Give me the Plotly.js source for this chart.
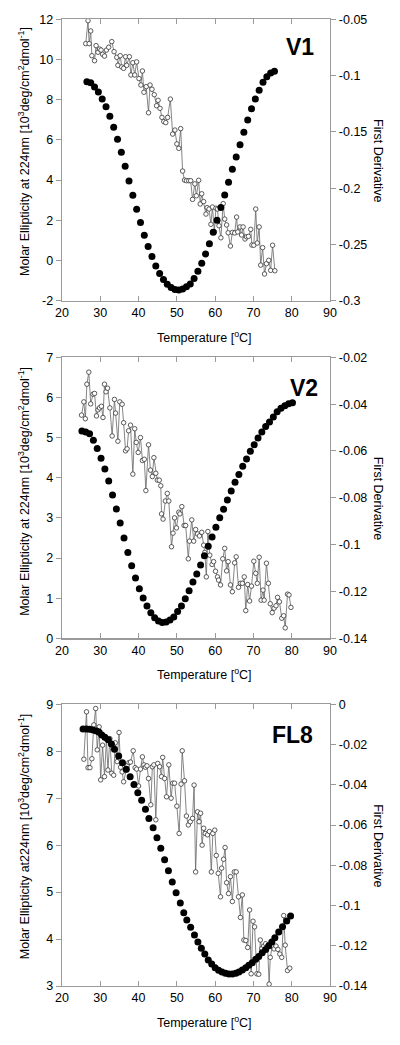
<!DOCTYPE html>
<html>
<head>
<meta charset="utf-8">
<script src="https://cdn.plot.ly/plotly-3.0.1.min.js"></script>
<style>html,body{margin:0;padding:0;background:#fff;}#chart{width:400px;height:1045px;}</style>
</head>
<body>
<div id="chart"></div>
<script>
// ---------- Panel V1 ----------
const v1EllipX = [26.2,26.8,27.1,27.5,27.8,28.5,28.9,29.4,29.8,30.2,30.6,31.1,31.6,32.2,33.0,33.6,34.3,34.6,35.2,35.6,36.1,36.6,36.9,37.6,38.0,38.5,39.0,39.5,40.1,40.6,41.0,41.4,42.0,42.6,43.0,43.5,44.1,44.7,45.1,45.6,46.1,46.6,47.1,47.6,48.3,48.9,49.5,50.0,50.5,51.0,51.5,52.0,52.5,53.1,53.6,54.1,54.7,55.1,55.7,56.1,56.5,57.0,57.6,57.9,58.4,58.9,59.3,59.8,60.2,60.6,61.0,61.5,62.1,62.5,63.0,63.4,64.0,64.5,65.1,65.6,65.9,66.5,66.9,67.3,67.8,68.2,68.7,69.3,69.6,70.1,70.6,71.0,71.5,71.9,72.4,72.9,73.4,74.0,74.5,75.0,75.6];
const v1EllipY = [10.79,11.93,10.79,11.42,10.19,9.94,10.69,10.36,10.52,10.47,10.26,10.17,10.47,10.61,10.89,10.39,10.11,9.71,10.19,9.63,9.56,10.14,9.71,10.14,9.23,9.84,9.23,9.88,9.05,8.73,9.43,8.37,8.65,7.35,8.73,8.52,8.25,7.70,7.97,7.57,7.12,6.91,6.86,7.12,8.03,6.29,6.49,5.80,5.58,6.56,4.45,4.00,3.97,3.97,3.97,3.04,3.81,3.22,3.99,2.81,3.32,2.93,2.31,2.63,2.56,1.80,2.66,1.43,2.60,2.56,1.73,1.13,2.83,2.06,1.77,1.38,0.72,1.40,1.37,2.16,1.42,1.67,1.27,1.67,1.07,1.18,1.20,1.55,0.77,0.76,2.56,0.87,1.67,-0.23,0.64,-0.67,-0.16,0.01,-0.49,0.76,-0.51];
const v1DerivX = [26.5,27.5,28.5,29.5,30.5,31.5,32.5,33.5,34.5,35.5,36.5,37.5,38.5,39.5,40.5,41.5,42.5,43.5,44.5,45.5,46.5,47.5,48.5,49.5,50.5,51.5,52.5,53.5,54.5,55.5,56.5,57.5,58.5,59.5,60.5,61.5,62.5,63.5,64.5,65.5,66.5,67.5,68.5,69.5,70.5,71.5,72.5,73.5,74.5,75.5];
const v1DerivY = [-0.1054,-0.1063,-0.1101,-0.1146,-0.1208,-0.1276,-0.1362,-0.1459,-0.1566,-0.1681,-0.1806,-0.1936,-0.2063,-0.2188,-0.2306,-0.2418,-0.2519,-0.2608,-0.2691,-0.2759,-0.2812,-0.2853,-0.2883,-0.2901,-0.2904,-0.2895,-0.2877,-0.2851,-0.2803,-0.2738,-0.2667,-0.2584,-0.2495,-0.2391,-0.2285,-0.2173,-0.2060,-0.1947,-0.1832,-0.1723,-0.1614,-0.1503,-0.1394,-0.1294,-0.1208,-0.1131,-0.1059,-0.1010,-0.0977,-0.0962];

// ---------- Panel V2 ----------
const v2EllipX = [25.1,25.7,26.1,26.5,27.0,27.5,28.1,28.5,29.0,29.4,29.8,30.3,30.7,31.1,31.5,31.9,32.5,33.1,33.7,34.0,34.6,35.1,35.7,36.1,36.6,37.0,37.4,37.9,38.5,39.0,39.4,39.9,40.5,41.0,41.5,41.9,42.6,43.1,43.6,44.0,44.5,44.9,45.4,45.8,46.0,46.4,47.0,47.5,47.9,48.6,49.0,49.4,49.9,50.5,50.8,51.3,51.9,52.3,53.0,53.3,53.9,54.4,54.9,55.4,55.9,56.5,57.0,57.3,57.7,58.1,58.6,59.2,59.6,60.1,60.6,60.9,61.4,62.0,62.5,63.0,63.4,64.0,64.5,65.1,65.5,66.1,66.6,67.1,67.6,68.0,68.5,69.0,69.5,70.1,70.6,71.0,71.5,72.0,72.5,72.8,73.4,73.9,74.4,74.9,75.4,75.9,76.3,76.8,77.4,77.9,78.3,78.9,79.3,79.8];
const v2EllipY = [5.56,5.89,5.47,6.33,6.63,5.84,6.08,6.10,5.54,5.69,5.74,5.78,5.50,6.33,6.14,6.23,5.74,5.04,5.95,5.61,4.91,5.89,5.83,5.37,4.67,4.72,5.17,5.31,4.09,5.22,4.88,4.63,5.00,4.43,4.46,3.68,4.82,4.19,4.03,4.50,4.11,3.94,3.94,3.80,3.10,2.97,3.42,3.61,3.42,2.28,2.62,3.00,2.75,3.14,3.10,3.28,2.81,2.81,1.98,2.42,2.95,2.42,2.71,2.60,2.55,2.64,2.32,2.14,1.53,2.66,2.07,1.84,1.91,1.67,1.53,1.45,1.33,1.98,2.24,1.68,1.91,1.33,1.16,1.88,2.03,1.27,1.37,1.37,1.53,0.69,1.34,0.93,1.30,1.92,1.62,1.37,2.02,0.95,1.20,0.95,1.87,1.37,0.86,0.64,0.75,0.81,1.02,0.91,0.50,0.56,0.26,1.10,1.08,0.77];
const v2DerivX = [25.2,26.2,27.2,28.2,29.2,30.2,31.2,32.2,33.2,34.2,35.2,36.2,37.2,38.2,39.2,40.2,41.2,42.2,43.2,44.2,45.2,46.2,47.2,48.2,49.2,50.2,51.2,52.2,53.2,54.2,55.2,56.2,57.2,58.2,59.2,60.2,61.2,62.2,63.2,64.2,65.2,66.2,67.2,68.2,69.2,70.2,71.2,72.2,73.2,74.2,75.2,76.2,77.2,78.2,79.2,80.2];
const v2DerivY = [-0.0515,-0.0519,-0.0526,-0.0554,-0.0590,-0.0631,-0.0677,-0.0728,-0.0788,-0.0848,-0.0908,-0.0972,-0.1034,-0.1090,-0.1142,-0.1188,-0.1228,-0.1262,-0.1291,-0.1312,-0.1326,-0.1333,-0.1330,-0.1322,-0.1309,-0.1286,-0.1262,-0.1231,-0.1197,-0.1160,-0.1125,-0.1087,-0.1048,-0.1007,-0.0967,-0.0926,-0.0885,-0.0849,-0.0809,-0.0771,-0.0734,-0.0700,-0.0665,-0.0634,-0.0601,-0.0573,-0.0545,-0.0519,-0.0496,-0.0476,-0.0455,-0.0432,-0.0418,-0.0407,-0.0398,-0.0394];

// ---------- Panel FL8 ----------
const fl8EllipX = [25.7,26.4,26.8,27.3,27.8,28.3,28.8,29.2,29.7,30.1,30.6,31.1,31.6,32.0,32.5,33.0,33.5,33.9,34.4,34.9,35.3,35.7,36.1,36.6,37.0,37.5,37.9,38.6,39.1,39.5,40.0,40.5,41.0,41.4,41.8,42.2,42.6,43.2,43.6,44.0,44.5,45.0,45.5,46.0,46.3,46.8,47.3,47.9,48.5,48.9,49.4,50.0,50.6,51.1,51.4,52.0,52.5,53.0,53.5,54.1,54.5,54.9,55.4,55.8,56.2,56.6,57.0,57.4,58.0,58.5,59.0,59.4,59.9,60.3,60.8,61.4,61.7,62.2,62.6,63.0,63.5,64.0,64.5,65.0,65.5,66.1,66.6,67.1,67.5,68.0,68.5,69.0,69.4,69.9,70.3,70.9,71.4,71.8,72.2,72.7,73.2,73.7,74.1,74.4,74.9,75.4,75.9,76.4,76.9,77.4,77.9,78.3,78.9,79.5];
const fl8EllipY = [7.83,8.84,7.65,7.65,7.84,8.56,8.91,8.03,8.52,7.39,8.13,7.46,8.25,7.60,8.27,7.53,7.49,8.18,7.78,8.40,7.66,7.56,7.35,7.59,7.69,7.76,7.77,8.01,7.65,7.62,7.26,7.62,7.88,7.71,7.66,7.69,7.42,6.86,7.67,7.71,6.54,7.74,7.67,7.46,7.87,7.42,7.03,7.71,7.00,7.32,7.32,6.83,6.25,7.30,8.01,7.37,6.62,6.43,6.50,6.57,7.28,5.43,6.71,6.50,6.68,6.00,6.36,6.25,6.22,6.29,5.43,6.25,6.32,5.78,5.40,4.90,5.51,5.70,5.95,5.20,4.97,5.33,4.80,5.43,5.43,4.90,4.46,4.94,3.98,3.97,3.82,4.62,3.26,4.38,4.26,3.26,3.25,3.98,3.80,3.85,3.90,3.84,3.04,3.61,3.84,3.79,3.85,3.78,3.68,3.61,4.50,3.87,3.33,3.38];
const fl8DerivX = [25.5,26.4,27.2,28.1,29.0,29.7,30.4,31.2,32.1,32.9,33.7,34.8,35.8,36.8,37.8,38.8,39.8,40.8,41.8,42.7,43.8,44.8,45.8,46.8,47.8,48.8,49.8,50.9,51.8,52.6,53.6,54.6,55.5,56.4,57.3,58.2,59.1,60.0,60.9,61.8,62.7,63.6,64.5,65.4,66.2,67.1,68.0,68.8,69.7,70.6,71.4,72.3,73.2,74.0,74.8,75.6,76.6,77.6,78.7,79.7];
const fl8DerivY = [-0.0123,-0.0123,-0.0124,-0.0128,-0.0133,-0.0139,-0.0153,-0.0164,-0.0176,-0.0197,-0.0224,-0.0257,-0.0290,-0.0323,-0.0360,-0.0398,-0.0439,-0.0477,-0.0522,-0.0567,-0.0613,-0.0663,-0.0716,-0.0772,-0.0827,-0.0883,-0.0936,-0.0987,-0.1036,-0.1072,-0.1108,-0.1147,-0.1181,-0.1213,-0.1241,-0.1271,-0.1291,-0.1309,-0.1322,-0.1330,-0.1337,-0.1340,-0.1340,-0.1337,-0.1330,-0.1321,-0.1309,-0.1297,-0.1284,-0.1267,-0.1254,-0.1235,-0.1218,-0.1200,-0.1181,-0.1160,-0.1132,-0.1105,-0.1077,-0.1052];

// ---------- Tick labels ----------
const xTicks = [20,30,40,50,60,70,80,90];
const v1LeftTicks = [-2,0,2,4,6,8,10,12];
const v1LeftText = ['-2','0','2','4','6','8','10','12'];
const v1RightTicks = [-0.3,-0.25,-0.2,-0.15,-0.1,-0.05];
const v1RightText = ['-0.3','-0.25','-0.2','-0.15','-0.1','-0.05'];
const v2LeftTicks = [0,1,2,3,4,5,6,7];
const v2RightTicks = [-0.14,-0.12,-0.1,-0.08,-0.06,-0.04,-0.02];
const v2RightText = ['-0.14','-0.12','-0.1','-0.08','-0.06','-0.04','-0.02'];
const fl8LeftTicks = [3,4,5,6,7,8,9];
const fl8RightTicks = [-0.14,-0.12,-0.1,-0.08,-0.06,-0.04,-0.02,0];
const fl8RightText = ['-0.14','-0.12','-0.1','-0.08','-0.06','-0.04','-0.02','0'];

const panelLabels = ['V1','V2','FL8'];
const xTitle = 'Temperature [<sup>o</sup>C]';
const yTitles = ['Molar Ellipticity at 224nm [10<sup>3</sup>deg/cm<sup>2</sup>dmol<sup>-1</sup>]',
                 'Molar Ellipticity at 224nm [10<sup>3</sup>deg/cm<sup>2</sup>dmol<sup>-1</sup>]',
                 'Molar Ellipticity at224nm [10<sup>3</sup>deg/cm<sup>2</sup>dmol<sup>-1</sup>]'];
const y2Title = 'First Derivative';

// ---------- Styling ----------
const FONT = 'Liberation Sans, Arial, sans-serif';
const AXC = '#9a9a9a';
function openTrace(x, y, xa, ya) {
  return {x: x, y: y, xaxis: xa, yaxis: ya, type: 'scatter', mode: 'lines+markers',
    line: {color: '#666', width: 0.8},
    marker: {symbol: 'circle', size: 4.5, color: '#fff', line: {color: '#333', width: 0.8}},
    hoverinfo: 'skip', showlegend: false};
}
function filledTrace(x, y, xa, ya) {
  return {x: x, y: y, xaxis: xa, yaxis: ya, type: 'scatter', mode: 'markers',
    marker: {symbol: 'circle', size: 7, color: '#000'},
    hoverinfo: 'skip', showlegend: false};
}
const data = [
  openTrace(v1EllipX, v1EllipY, 'x', 'y'),
  filledTrace(v1DerivX, v1DerivY, 'x', 'y2'),
  openTrace(v2EllipX, v2EllipY, 'x2', 'y3'),
  filledTrace(v2DerivX, v2DerivY, 'x2', 'y4'),
  openTrace(fl8EllipX, fl8EllipY, 'x3', 'y5'),
  filledTrace(fl8DerivX, fl8DerivY, 'x3', 'y6')
];

const H = 1045, W = 400, ML = 62, MR = 70;
const PW = W - ML - MR;
const panelsPx = [[19.3, 300.7], [357.3, 638.3], [704.3, 986]];
const domains = panelsPx.map(p => [1 - p[1] / H, 1 - p[0] / H]);

function xAxis(anchor) {
  return {domain: [0, 1], anchor: anchor, range: [20, 90], tickvals: xTicks,
    ticks: 'inside', ticklen: 5, tickwidth: 1, tickcolor: AXC, mirror: 'ticks',
    showline: true, linecolor: AXC, linewidth: 1.3, showgrid: false, zeroline: false,
    tickfont: {family: FONT, size: 12.5, color: '#000'}};
}
function yLeft(dom, anchor, range, tv, tt) {
  return {domain: dom, anchor: anchor, range: range, tickvals: tv, ticktext: tt,
    ticks: 'outside', ticklen: 5, tickwidth: 1, tickcolor: AXC,
    showline: true, linecolor: AXC, linewidth: 1.3, showgrid: false, zeroline: false,
    tickfont: {family: FONT, size: 12.5, color: '#000'}};
}
function yRight(over, anchor, range, tv, tt) {
  return {overlaying: over, side: 'right', anchor: anchor, range: range, tickvals: tv, ticktext: tt,
    ticks: 'outside', ticklen: 5, tickwidth: 1, tickcolor: AXC,
    showline: true, linecolor: AXC, linewidth: 1.3, showgrid: false, zeroline: false,
    tickfont: {family: FONT, size: 12.5, color: '#000'}};
}

// annotation helper: pixel position -> paper coords
function ann(text, px, py, opts) {
  return Object.assign({text: text, xref: 'paper', yref: 'paper',
    x: (px - ML) / PW, y: 1 - py / H, xanchor: 'center', yanchor: 'middle',
    showarrow: false, font: {family: FONT, size: 12.5, color: '#000'}}, opts || {});
}
const annotations = [];
const labelPos = [[300, 47], [304, 388], [292, 735]];
const yTitleShift = [-8, -6, -8];
panelLabels.forEach((t, i) => {
  const top = panelsPx[i][0], bot = panelsPx[i][1], mid = (top + bot) / 2;
  annotations.push(ann('<b>' + t + '</b>', labelPos[i][0], labelPos[i][1],
    {font: {family: FONT, size: 23, color: '#000'}}));
  annotations.push(ann(y2Title, 378, mid, {textangle: 90}));
  annotations.push(ann(yTitles[i], 24, mid + yTitleShift[i], {textangle: -90}));
  annotations.push(ann(xTitle, 204, bot + 36));
});

const layout = {
  width: W, height: H, paper_bgcolor: '#fff', plot_bgcolor: '#fff',
  margin: {l: ML, r: MR, t: 0, b: 0},
  showlegend: false,
  font: {family: FONT, color: '#000'},
  xaxis: xAxis('y'),
  xaxis2: xAxis('y3'),
  xaxis3: xAxis('y5'),
  yaxis: yLeft(domains[0], 'x', [-2, 12], v1LeftTicks, v1LeftText),
  yaxis2: yRight('y', 'x', [-0.3, -0.05], v1RightTicks, v1RightText),
  yaxis3: yLeft(domains[1], 'x2', [0, 7], v2LeftTicks, v2LeftTicks.map(String)),
  yaxis4: yRight('y3', 'x2', [-0.14, -0.02], v2RightTicks, v2RightText),
  yaxis5: yLeft(domains[2], 'x3', [3, 9], fl8LeftTicks, fl8LeftTicks.map(String)),
  yaxis6: yRight('y5', 'x3', [-0.14, 0], fl8RightTicks, fl8RightText),
  annotations: annotations
};

Plotly.newPlot('chart', data, layout, {staticPlot: true, displayModeBar: false});
</script>
</body>
</html>
